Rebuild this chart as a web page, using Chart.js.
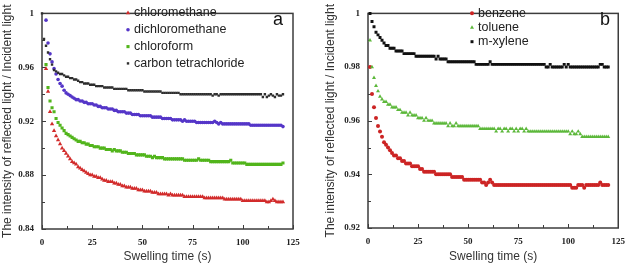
<!DOCTYPE html>
<html>
<head>
<meta charset="utf-8">
<script src="https://cdn.jsdelivr.net/npm/chart.js@4/dist/chart.umd.min.js"></script>
<style>
  body { margin: 0; background: #fff; }
  #wrap { position: relative; width: 633px; height: 266px; overflow: hidden; }
  canvas { position: absolute; top: 0; }
  #chartA { left: 0; }
  #chartB { left: 313px; }
</style>
</head>
<body>
<div id="wrap">
  <canvas id="chartA" width="313" height="266"></canvas>
  <canvas id="chartB" width="320" height="266"></canvas>
</div>
<script>
// swelling time (s), one reading per second
const times = [
  0, 1, 2, 3, 4, 5, 6, 7, 8, 9,
  10, 11, 12, 13, 14, 15, 16, 17, 18, 19,
  20, 21, 22, 23, 24, 25, 26, 27, 28, 29,
  30, 31, 32, 33, 34, 35, 36, 37, 38, 39,
  40, 41, 42, 43, 44, 45, 46, 47, 48, 49,
  50, 51, 52, 53, 54, 55, 56, 57, 58, 59,
  60, 61, 62, 63, 64, 65, 66, 67, 68, 69,
  70, 71, 72, 73, 74, 75, 76, 77, 78, 79,
  80, 81, 82, 83, 84, 85, 86, 87, 88, 89,
  90, 91, 92, 93, 94, 95, 96, 97, 98, 99,
  100, 101, 102, 103, 104, 105, 106, 107, 108, 109,
  110, 111, 112, 113, 114, 115, 116, 117, 118, 119,
  120
];

// panel a
const chloromethane = [
  null, null, 0.959, 0.942, 0.927, 0.918, 0.913, 0.909, 0.906, 0.903,
  0.900, 0.898, 0.896, 0.894, 0.892, 0.890, 0.889, 0.888, 0.886, 0.885,
  0.884, 0.883, 0.882, 0.881, 0.880, 0.880, 0.879, 0.879, 0.878, 0.878,
  0.877, 0.876, 0.876, 0.875, 0.875, 0.875, 0.874, 0.874, 0.873, 0.873,
  0.872, 0.872, 0.871, 0.871, 0.871, 0.870, 0.870, 0.870, 0.869, 0.869,
  0.869, 0.868, 0.868, 0.868, 0.868, 0.867, 0.867, 0.867, 0.866, 0.866,
  0.866, 0.866, 0.866, 0.865, 0.866, 0.865, 0.865, 0.865, 0.865, 0.865,
  0.865, 0.864, 0.864, 0.864, 0.864, 0.864, 0.864, 0.864, 0.864, 0.864,
  0.864, 0.863, 0.863, 0.863, 0.863, 0.863, 0.863, 0.863, 0.863, 0.863,
  0.863, 0.862, 0.862, 0.862, 0.862, 0.862, 0.862, 0.862, 0.862, 0.862,
  0.861, 0.861, 0.861, 0.861, 0.861, 0.861, 0.861, 0.861, 0.861, 0.861,
  0.861, 0.861, 0.860, 0.860, 0.861, 0.862, 0.861, 0.860, 0.860, 0.860,
  0.860
];
const dichloromethane = [
  null, null, 0.995, 0.978, 0.970, 0.964, 0.959, 0.955, 0.951, 0.948,
  0.946, 0.943, 0.941, 0.940, 0.939, 0.938, 0.937, 0.936, 0.936, 0.935,
  0.935, 0.934, 0.934, 0.933, 0.933, 0.933, 0.932, 0.932, 0.931, 0.931,
  0.930, 0.930, 0.930, 0.929, 0.929, 0.929, 0.928, 0.928, 0.927, 0.927,
  0.927, 0.927, 0.926, 0.926, 0.926, 0.925, 0.925, 0.925, 0.925, 0.924,
  0.924, 0.924, 0.924, 0.924, 0.924, 0.923, 0.923, 0.923, 0.923, 0.923,
  0.922, 0.922, 0.922, 0.922, 0.922, 0.921, 0.921, 0.921, 0.921, 0.921,
  0.920, 0.921, 0.920, 0.920, 0.920, 0.920, 0.920, 0.919, 0.919, 0.919,
  0.919, 0.919, 0.919, 0.919, 0.919, 0.919, 0.920, 0.919, 0.918, 0.919,
  0.918, 0.918, 0.918, 0.918, 0.918, 0.918, 0.918, 0.918, 0.918, 0.918,
  0.918, 0.918, 0.918, 0.918, 0.917, 0.917, 0.917, 0.917, 0.917, 0.917,
  0.917, 0.917, 0.917, 0.917, 0.917, 0.917, 0.917, 0.917, 0.917, 0.917,
  0.916
];
const chloroform = [
  null, null, 0.962, 0.945, 0.935, 0.930, 0.927, 0.922, 0.919, 0.917,
  0.915, 0.913, 0.911, 0.910, 0.909, 0.908, 0.907, 0.906, 0.905, 0.905,
  0.904, 0.904, 0.903, 0.903, 0.902, 0.902, 0.901, 0.901, 0.901, 0.900,
  0.900, 0.900, 0.899, 0.899, 0.899, 0.898, 0.899, 0.898, 0.898, 0.898,
  0.897, 0.897, 0.897, 0.896, 0.896, 0.896, 0.896, 0.895, 0.895, 0.895,
  0.895, 0.895, 0.894, 0.894, 0.894, 0.893, 0.894, 0.893, 0.893, 0.893,
  0.893, 0.892, 0.892, 0.892, 0.892, 0.892, 0.892, 0.892, 0.892, 0.892,
  0.892, 0.891, 0.891, 0.891, 0.891, 0.891, 0.891, 0.891, 0.892, 0.891,
  0.891, 0.891, 0.891, 0.891, 0.890, 0.890, 0.890, 0.890, 0.890, 0.890,
  0.890, 0.890, 0.890, 0.890, 0.891, 0.889, 0.889, 0.889, 0.889, 0.889,
  0.889, 0.889, 0.888, 0.888, 0.888, 0.888, 0.888, 0.888, 0.888, 0.888,
  0.888, 0.888, 0.888, 0.888, 0.888, 0.888, 0.888, 0.888, 0.888, 0.888,
  0.889
];
const carbonTetrachloride = [
  1.000, 0.981, 0.976, 0.971, 0.966, 0.962, 0.958, 0.957, 0.956, 0.955,
  0.955, 0.954, 0.953, 0.953, 0.952, 0.952, 0.951, 0.951, 0.950, 0.949,
  0.949, 0.948, 0.948, 0.948, 0.947, 0.947, 0.947, 0.946, 0.946, 0.946,
  0.946, 0.945, 0.945, 0.945, 0.945, 0.945, 0.944, 0.944, 0.944, 0.944,
  0.944, 0.944, 0.944, 0.943, 0.943, 0.943, 0.943, 0.943, 0.943, 0.943,
  0.943, 0.942, 0.942, 0.942, 0.942, 0.942, 0.942, 0.942, 0.942, 0.942,
  0.941, 0.941, 0.941, 0.941, 0.941, 0.941, 0.941, 0.941, 0.941, 0.940,
  0.940, 0.940, 0.940, 0.940, 0.940, 0.940, 0.940, 0.940, 0.940, 0.940,
  0.940, 0.940, 0.940, 0.940, 0.940, 0.939, 0.940, 0.940, 0.939, 0.940,
  0.940, 0.940, 0.940, 0.940, 0.940, 0.940, 0.940, 0.940, 0.940, 0.940,
  0.940, 0.940, 0.940, 0.940, 0.940, 0.940, 0.940, 0.940, 0.940, 0.940,
  0.938, 0.940, 0.938, 0.939, 0.940, 0.939, 0.938, 0.940, 0.939, 0.939,
  0.940
];

// panel b
const benzene = [
  null, 0.980, 0.970, 0.965, 0.961, 0.958, 0.956, 0.954, 0.952, 0.951,
  0.950, 0.949, 0.948, 0.947, 0.947, 0.946, 0.946, 0.945, 0.945, 0.944,
  0.944, 0.944, 0.943, 0.943, 0.943, 0.943, 0.942, 0.942, 0.941, 0.941,
  0.941, 0.941, 0.941, 0.941, 0.940, 0.940, 0.940, 0.940, 0.940, 0.940,
  0.940, 0.940, 0.939, 0.939, 0.939, 0.939, 0.939, 0.939, 0.938, 0.938,
  0.938, 0.938, 0.938, 0.938, 0.938, 0.938, 0.938, 0.937, 0.937, 0.936,
  0.937, 0.938, 0.937, 0.936, 0.936, 0.936, 0.936, 0.936, 0.936, 0.936,
  0.936, 0.936, 0.936, 0.936, 0.936, 0.936, 0.936, 0.936, 0.936, 0.936,
  0.936, 0.936, 0.936, 0.936, 0.936, 0.936, 0.936, 0.936, 0.936, 0.936,
  0.936, 0.936, 0.936, 0.936, 0.936, 0.936, 0.936, 0.936, 0.936, 0.936,
  0.936, 0.936, 0.935, 0.935, 0.935, 0.936, 0.936, 0.936, 0.935, 0.936,
  0.936, 0.936, 0.936, 0.936, 0.936, 0.936, 0.937, 0.936, 0.936, 0.936,
  0.936
];
const toluene = [
  null, 0.990, 0.980, 0.976, 0.973, 0.971, 0.969, 0.968, 0.967, 0.967,
  0.966, 0.966, 0.965, 0.965, 0.965, 0.964, 0.964, 0.963, 0.963, 0.963,
  0.962, 0.963, 0.962, 0.962, 0.962, 0.961, 0.961, 0.961, 0.960, 0.961,
  0.960, 0.960, 0.960, 0.959, 0.959, 0.959, 0.959, 0.959, 0.959, 0.959,
  0.958, 0.959, 0.958, 0.958, 0.959, 0.958, 0.958, 0.958, 0.958, 0.958,
  0.958, 0.958, 0.958, 0.958, 0.958, 0.958, 0.957, 0.957, 0.957, 0.957,
  0.957, 0.957, 0.957, 0.957, 0.956, 0.957, 0.957, 0.956, 0.957, 0.957,
  0.956, 0.957, 0.957, 0.956, 0.957, 0.956, 0.957, 0.957, 0.956, 0.957,
  0.956, 0.956, 0.956, 0.956, 0.956, 0.956, 0.956, 0.956, 0.956, 0.956,
  0.956, 0.956, 0.956, 0.956, 0.956, 0.956, 0.956, 0.956, 0.956, 0.956,
  0.956, 0.955, 0.956, 0.955, 0.955, 0.956, 0.955, 0.954, 0.954, 0.954,
  0.954, 0.954, 0.954, 0.954, 0.954, 0.954, 0.954, 0.954, 0.954, 0.954,
  0.954
];
const mXylene = [
  null, 1.000, 0.997, 0.995, 0.993, 0.992, 0.991, 0.990, 0.989, 0.988,
  0.988, 0.987, 0.987, 0.987, 0.986, 0.986, 0.986, 0.986, 0.985, 0.985,
  0.985, 0.985, 0.985, 0.985, 0.984, 0.984, 0.984, 0.984, 0.984, 0.984,
  0.984, 0.984, 0.984, 0.984, 0.983, 0.984, 0.983, 0.983, 0.983, 0.983,
  0.982, 0.982, 0.982, 0.982, 0.982, 0.982, 0.982, 0.982, 0.982, 0.982,
  0.982, 0.982, 0.982, 0.982, 0.981, 0.981, 0.981, 0.981, 0.981, 0.981,
  0.981, 0.982, 0.981, 0.981, 0.981, 0.981, 0.981, 0.981, 0.981, 0.981,
  0.981, 0.981, 0.981, 0.981, 0.981, 0.981, 0.981, 0.981, 0.981, 0.981,
  0.981, 0.981, 0.981, 0.981, 0.981, 0.981, 0.981, 0.981, 0.981, 0.980,
  0.980, 0.981, 0.980, 0.980, 0.980, 0.980, 0.980, 0.980, 0.981, 0.980,
  0.981, 0.980, 0.980, 0.980, 0.980, 0.980, 0.980, 0.980, 0.980, 0.980,
  0.980, 0.980, 0.980, 0.980, 0.980, 0.980, 0.981, 0.981, 0.980, 0.980,
  0.980
];

// tick labels
const xTicks = [0, 25, 50, 75, 100, 125];
const yTicksA = [0.84, 0.88, 0.92, 0.96, 1];
const yTicksB = [0.92, 0.94, 0.96, 0.98, 1];

const tickFont = { family: '"Liberation Serif", "Times New Roman", serif', size: 9, weight: 'bold' };
const titleFont = { family: '"Liberation Sans", Arial, sans-serif', size: 12 };

function series(values) {
  return times.map((t, i) => ({ x: t, y: values[i] })).filter(p => p.y !== null);
}

// frame round the plot area, with inward major and minor ticks on left and bottom
const frameTicks = {
  id: 'frameTicks',
  beforeDatasetsDraw(chart) {
    const { ctx, chartArea: a, scales: { x, y } } = chart;
    ctx.save();
    ctx.strokeStyle = '#3c3c3c';
    ctx.lineWidth = 1;
    ctx.beginPath();
    const xs = x.ticks.map(t => t.value);
    xs.forEach((v, i) => {
      const px = Math.round(x.getPixelForValue(v)) + 0.5;
      ctx.moveTo(px, a.bottom); ctx.lineTo(px, a.bottom - 4);
      if (i < xs.length - 1) {
        const mx = Math.round(x.getPixelForValue((v + xs[i + 1]) / 2)) + 0.5;
        ctx.moveTo(mx, a.bottom); ctx.lineTo(mx, a.bottom - 3);
      }
    });
    const ys = y.ticks.map(t => t.value);
    ys.forEach((v, i) => {
      const py = Math.round(y.getPixelForValue(v)) + 0.5;
      ctx.moveTo(a.left, py); ctx.lineTo(a.left + 4, py);
      if (i < ys.length - 1) {
        const my = Math.round(y.getPixelForValue((v + ys[i + 1]) / 2)) + 0.5;
        ctx.moveTo(a.left, my); ctx.lineTo(a.left + 3, my);
      }
    });
    ctx.stroke();
    ctx.lineWidth = 1.5;
    ctx.strokeRect(a.left, a.top, a.right - a.left, a.bottom - a.top);
    ctx.restore();
  }
};

// legend drawn inside the plot area plus the panel letter
const insideLegend = {
  id: 'insideLegend',
  afterDraw(chart, args, opts) {
    const ctx = chart.ctx;
    ctx.save();
    ctx.textBaseline = 'middle';
    ctx.font = '12.5px "Liberation Sans", Arial, sans-serif';
    chart.data.datasets.forEach((ds, i) => {
      const y = opts.y + i * opts.gap;
      ctx.fillStyle = ds.backgroundColor;
      ctx.strokeStyle = ds.borderColor;
      Chart.helpers.drawPoint(ctx, {
        pointStyle: ds.pointStyle, radius: ds.pointRadius, rotation: 0, borderWidth: 0
      }, opts.x, y);
      ctx.fillStyle = '#222';
      ctx.fillText(ds.label, opts.x + 6, y);
    });
    ctx.font = '18px "Liberation Sans", Arial, sans-serif';
    ctx.textAlign = 'center';
    ctx.fillStyle = '#111';
    ctx.fillText(opts.tag, opts.tagX, opts.tagY);
    ctx.restore();
  }
};

function makeChart(id, datasets, yTicks, box, legend) {
  const yMin = yTicks[0], yMax = yTicks[yTicks.length - 1];
  return new Chart(document.getElementById(id), {
    type: 'scatter',
    data: { datasets },
    plugins: [frameTicks, insideLegend],
    options: {
      responsive: false,
      animation: false,
      events: [],
      layout: { padding: { left: 0, right: box.right, top: box.top, bottom: 0 } },
      plugins: {
        legend: { display: false },
        tooltip: { enabled: false },
        insideLegend: legend
      },
      scales: {
        x: {
          type: 'linear',
          min: xTicks[0],
          max: xTicks[xTicks.length - 1],
          afterBuildTicks: s => { s.ticks = xTicks.map(v => ({ value: v })); },
          afterFit: s => { s.height = box.xHeight; },
          grid: { display: false, drawTicks: false },
          border: { display: false },
          ticks: { font: tickFont, color: '#222', padding: 8, maxRotation: 0, callback: v => String(v) },
          title: { display: true, text: 'Swelling time (s)', font: titleFont, color: '#333', padding: { top: 0, bottom: 2 } }
        },
        y: {
          type: 'linear',
          min: yMin,
          max: yMax,
          afterBuildTicks: s => { s.ticks = yTicks.map(v => ({ value: v })); },
          afterFit: s => { s.width = box.yWidth; },
          grid: { display: false, drawTicks: false },
          border: { display: false },
          ticks: { font: tickFont, color: '#222', padding: 8, callback: v => String(+v.toFixed(2)) },
          title: { display: true, text: 'The intensity of reflected light / Incident light', font: titleFont, color: '#333', padding: { top: box.titlePad, bottom: 0 } }
        }
      }
    }
  });
}

function ds(label, values, color, style, radius, order) {
  return {
    label, data: series(values), order,
    backgroundColor: color, borderColor: color,
    pointStyle: style, pointRadius: radius, pointBorderWidth: 0,
    showLine: false, clip: 4
  };
}

makeChart('chartA', [
  ds('chloromethane', chloromethane, '#d22b2b', 'triangle', 2.5, 4),
  ds('dichloromethane', dichloromethane, '#5536c8', 'circle', 1.8, 3),
  ds('chloroform', chloroform, '#52b51c', 'rect', 2.2, 2),
  ds('carbon tetrachloride', carbonTetrachloride, '#2e2e2e', 'rect', 1.7, 1)
], yTicksA,
  { right: 20, top: 6, xHeight: 37, yWidth: 42, titlePad: 0 },
  { x: 128, y: 13, gap: 16.8, tag: 'a', tagX: 278, tagY: 20 });

makeChart('chartB', [
  ds('benzene', benzene, '#cc2424', 'circle', 2, 3),
  ds('toluene', toluene, '#5cb83a', 'triangle', 2.3, 2),
  ds('m-xylene', mXylene, '#111111', 'rect', 2.1, 1)
], yTicksB,
  { right: 14, top: 7, xHeight: 38, yWidth: 55, titlePad: 10 },
  { x: 159, y: 13.3, gap: 14.2, tag: 'b', tagX: 292, tagY: 20 });
</script>
</body>
</html>
